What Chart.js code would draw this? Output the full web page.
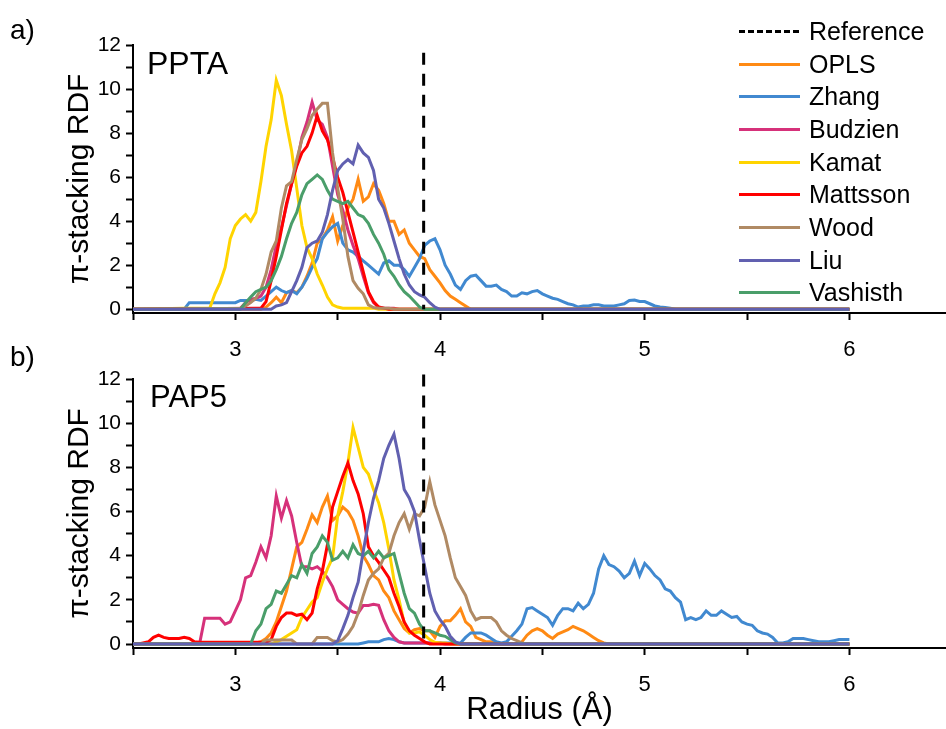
<!DOCTYPE html>
<html>
<head>
<meta charset="utf-8">
<script src="https://cdn.jsdelivr.net/npm/chart.js@4.4.1/dist/chart.umd.min.js"></script>
<style>
    body { margin: 0; background: #fff; font-family: "Liberation Sans", Arial, sans-serif; }
    #page { position: relative; width: 946px; height: 729px; overflow: hidden; background: #fff; }
    .panel { position: absolute; left: 0; }
    .tag { position: absolute; color: #000; line-height: 1; white-space: nowrap; }
    #legend { position: absolute; left: 739px; top: 15px; }
    .row { display: flex; align-items: center; height: 32.7px; font-size: 25px; color: #000; }
    .swatch { width: 61px; height: 3px; margin-right: 9px; }
</style>
</head>
<body>
<div id="page">
    <div class="panel" style="top:0px"><canvas id="chartA" width="946" height="365"></canvas></div>
    <div class="panel" style="top:330px"><canvas id="chartB" width="946" height="399"></canvas></div>
    <div class="tag" style="left:10px; top:16px; font-size:28px">a)</div>
    <div class="tag" style="left:10px; top:343px; font-size:28px">b)</div>
    <div class="tag" style="left:147px; top:47px; font-size:32px">PPTA</div>
    <div class="tag" style="left:150px; top:381px; font-size:31px">PAP5</div>
    <div id="legend"></div>
</div>
<script>
// Shared grid of the RDF data (Å)
const STEP = 0.025;
const X_START = 2.5;
const X_END = 6.0;
const REF_X = 3.92;

const seriesNames = ["OPLS", "Zhang", "Budzien", "Kamat", "Mattsson", "Wood", "Liu", "Vashisth"];
const seriesColors = ["#ff8a14", "#4189d0", "#d6317a", "#ffd400", "#ff0000", "#b08a64", "#6160b0", "#4a9e6a"];
const xTicks = [2.5, 3, 3.5, 4, 4.5, 5, 5.5, 6];
const yTicks = [0, 1, 2, 3, 4, 5, 6, 7, 8, 9, 10, 11, 12];

// PPTA (panel a): first x of every series, then the values on the STEP grid
const pptaStarts = [3.125, 2.75, 3.025, 2.75, 3.1, 3.025, 3.175, 3.025];
const pptaOpls = [0, 0.1, 0.3, 0.55, 0.3, 0.75, 0.85, 0.75, 1.0, 1.5, 2.1, 3.0, 3.2, 3.6, 4.2, 3.1, 3.8, 4.6, 5.0, 5.9, 4.9, 5.1, 5.7, 5.4, 4.8, 4.0, 4.0, 3.4, 3.6, 3.0, 2.7, 2.4, 2.3, 1.8, 1.5, 1.2, 0.85, 0.6, 0.45, 0.3, 0.15, 0];
const pptaZhang = [0, 0.3, 0.3, 0.3, 0.3, 0.3, 0.3, 0.3, 0.3, 0.3, 0.3, 0.4, 0.4, 0.4, 0.45, 0.4, 0.6, 0.8, 1.0, 0.85, 0.75, 0.85, 0.7, 1.0, 1.4, 1.9, 2.3, 3.2, 3.5, 3.75, 3.9, 3.0, 2.7, 2.6, 2.4, 2.2, 2.0, 1.8, 1.6, 2.1, 2.2, 2.0, 2.0, 1.8, 1.5, 1.9, 2.3, 2.9, 3.1, 3.2, 2.7, 2.0, 1.6, 1.1, 0.9, 1.3, 1.5, 1.55, 1.3, 1.05, 1.05, 1.1, 0.9, 0.8, 0.6, 0.6, 0.75, 0.7, 0.8, 0.85, 0.7, 0.6, 0.5, 0.45, 0.35, 0.25, 0.2, 0.1, 0.15, 0.15, 0.2, 0.2, 0.15, 0.15, 0.15, 0.2, 0.25, 0.4, 0.42, 0.35, 0.35, 0.25, 0.15, 0.1, 0.08, 0.05, 0];
const pptaBudzien = [0.05, 0.3, 0.45, 0.5, 0.6, 1.0, 1.8, 2.9, 3.7, 4.7, 5.7, 6.6, 7.8, 8.5, 9.4, 8.6, 8.4, 7.8, 6.5, 5.2, 4.5, 3.6, 2.9, 2.3, 1.5, 0.75, 0.3, 0.1, 0.05, 0.05, 0.05, 0];
const pptaKamat = [0.05, 0.05, 0.05, 0.05, 0.05, 0.05, 0.7, 1.2, 1.9, 3.2, 3.8, 4.1, 4.3, 4.0, 4.4, 5.8, 7.4, 8.6, 10.4, 9.7, 8.4, 7.2, 5.5, 3.8, 2.8, 2.3, 1.6, 1.1, 0.55, 0.2, 0.1, 0.05, 0.05, 0.05, 0.05, 0.05, 0.05, 0.05, 0];
const pptaMattsson = [0.05, 0.05, 0.35, 1.3, 2.4, 3.6, 4.8, 5.7, 6.5, 7.1, 7.4, 8.0, 8.8, 8.1, 7.7, 6.9, 6.0, 5.3, 4.4, 3.5, 2.6, 1.7, 0.8, 0.35, 0.1, 0.05, 0];
const pptaWood = [0.05, 0.15, 0.3, 0.5, 0.9, 1.6, 2.6, 3.1, 4.6, 5.6, 5.8, 6.8, 7.7, 8.2, 8.8, 9.1, 9.35, 9.35, 7.1, 5.5, 4.1, 2.4, 1.3, 0.95, 0.7, 0.2, 0.08, 0.05, 0.05, 0.05, 0];
const pptaLiu = [0, 0.15, 0.2, 0.3, 0.8, 1.3, 1.9, 2.8, 3.0, 3.1, 3.5, 4.3, 5.4, 6.3, 6.6, 6.8, 6.6, 7.45, 7.1, 6.9, 6.3, 5.0, 4.6, 3.9, 3.1, 2.3, 1.6, 1.1, 0.8, 0.65, 0.55, 0.3, 0.1, 0];
const pptaVashisth = [0, 0.3, 0.55, 0.8, 0.9, 1.0, 1.3, 1.8, 2.4, 3.2, 3.9, 4.4, 5.2, 5.7, 5.9, 6.1, 5.9, 5.4, 5.0, 4.9, 4.8, 4.9, 4.6, 4.3, 4.2, 3.9, 3.4, 3.0, 2.5, 1.8, 1.5, 1.1, 0.8, 0.6, 0.35, 0.1, 0];

// PAP5 (panel b)
const pap5Starts = [3.075, 3.6, 2.825, 3.175, 2.525, 3.125, 3.475, 3.075];
const pap5Opls = [0, 0.05, 0.1, 0.25, 0.5, 1.0, 1.7, 2.4, 3.4, 4.4, 4.6, 5.2, 5.85, 5.5, 6.2, 6.7, 5.6, 5.8, 6.2, 6.0, 5.6, 4.9, 4.0, 3.6, 3.1, 2.9, 2.4, 2.1, 1.5, 1.1, 0.7, 0.5, 0.65, 0.7, 0.6, 0.6, 0.3, 0.8, 1.05, 1.05, 1.3, 1.6, 1.0, 0.8, 0.3, 0.2, 0.1, 0.1, 0, 0, 0, 0, 0, 0.1, 0.4, 0.6, 0.7, 0.6, 0.4, 0.25, 0.45, 0.55, 0.65, 0.8, 0.7, 0.6, 0.45, 0.3, 0.15, 0.05, 0];
const pap5Zhang = [0, 0.05, 0.1, 0.1, 0.1, 0.2, 0.25, 0.2, 0.1, 0.05, 0.05, 0.05, 0.05, 0.05, 0.05, 0.05, 0.05, 0.05, 0.05, 0.05, 0.05, 0.3, 0.5, 0.5, 0.5, 0.4, 0.25, 0.1, 0.05, 0.1, 0.35, 0.6, 0.9, 1.6, 1.65, 1.5, 1.35, 1.2, 0.85, 1.3, 1.6, 1.6, 1.5, 1.85, 1.6, 1.8, 2.3, 3.4, 4.0, 3.6, 3.5, 3.3, 3.0, 3.2, 3.75, 3.1, 3.65, 3.4, 3.1, 2.9, 2.5, 2.4, 2.1, 1.9, 1.1, 1.2, 1.1, 1.2, 1.5, 1.3, 1.3, 1.5, 1.35, 1.2, 1.25, 1.0, 0.9, 0.85, 0.6, 0.5, 0.45, 0.3, 0.05, 0.05, 0.1, 0.25, 0.25, 0.25, 0.2, 0.15, 0.1, 0.1, 0.1, 0.15, 0.2, 0.2, 0.2];
const pap5Budzien = [0, 1.17, 1.17, 1.17, 1.17, 0.9, 1.0, 1.5, 2.0, 3.0, 3.1, 3.7, 4.4, 3.9, 4.9, 6.7, 5.7, 6.5, 5.8, 4.6, 3.5, 3.5, 3.4, 3.5, 3.3, 3.0, 2.6, 2.0, 1.8, 1.6, 1.45, 1.4, 1.75, 1.75, 1.8, 1.75, 1.1, 0.6, 0.3, 0.1, 0.05, 0.05, 0.05, 0.05, 0.05, 0.05, 0.05, 0.05, 0];
const pap5Kamat = [0, 0.1, 0.2, 0.35, 0.5, 0.65, 1.2, 1.55, 1.9, 2.1, 2.8, 3.4, 3.9, 5.8, 6.9, 8.2, 9.8, 8.9, 8.0, 7.7, 7.0, 6.4, 5.5, 4.3, 2.9, 2.0, 0.95, 0.5, 0.5, 0.55, 0.4, 0.2, 0.08, 0.05, 0.05, 0];
const pap5Mattsson = [0, 0.05, 0.1, 0.3, 0.4, 0.3, 0.25, 0.25, 0.25, 0.3, 0.25, 0.1, 0.08, 0.08, 0.08, 0.08, 0.08, 0.08, 0.08, 0.08, 0.08, 0.08, 0.08, 0.08, 0.08, 0.08, 0.2, 0.8, 1.2, 1.4, 1.4, 1.3, 1.35, 1.1, 1.4, 2.5, 3.3, 4.5, 6.2, 6.9, 7.6, 8.2, 7.4, 6.8, 5.9, 4.4, 4.0, 3.7, 3.35, 3.0, 2.3, 1.7, 1.0, 0.6, 0.4, 0.25, 0.1, 0];
const pap5Wood = [0, 0.18, 0.18, 0.18, 0.18, 0.18, 0.18, 0, 0, 0, 0, 0.3, 0.3, 0.3, 0.15, 0.1, 0.2, 0.45, 0.8, 1.4, 2.2, 2.9, 3.2, 3.4, 3.9, 4.1, 4.9, 5.5, 5.9, 5.2, 5.9, 5.8, 6.2, 7.35, 6.3, 5.6, 4.9, 3.9, 3.0, 2.6, 2.2, 1.5, 1.1, 1.2, 1.2, 1.2, 1.0, 0.6, 0.4, 0.25, 0.15, 0.05, 0];
const pap5Liu = [0, 0.15, 0.7, 1.3, 2.1, 2.8, 4.2, 5.5, 6.6, 7.4, 8.4, 9.0, 9.5, 8.4, 7.0, 6.6, 6.0, 4.7, 3.5, 2.3, 1.5, 1.1, 0.8, 0.35, 0.1, 0];
const pap5Vashisth = [0, 0.6, 0.9, 1.6, 1.8, 2.4, 2.3, 2.7, 3.1, 3.0, 3.6, 3.2, 4.1, 4.4, 4.9, 4.6, 3.8, 3.9, 4.2, 3.9, 4.5, 4.1, 4.0, 4.2, 3.9, 4.2, 3.9, 4.0, 4.1, 3.2, 2.3, 1.6, 1.4, 0.9, 0.6, 0.6, 0.5, 0.4, 0.35, 0.2, 0.05, 0];

const pptaValues = [pptaOpls, pptaZhang, pptaBudzien, pptaKamat, pptaMattsson, pptaWood, pptaLiu, pptaVashisth];
const pap5Values = [pap5Opls, pap5Zhang, pap5Budzien, pap5Kamat, pap5Mattsson, pap5Wood, pap5Liu, pap5Vashisth];

const FONT = "'Liberation Sans', Arial, sans-serif";

document.addEventListener("DOMContentLoaded", () => {
    buildLegend();
    makePanel("chartA", pptaStarts, pptaValues, { top: 45, xHeight: 52, yMin: -0.17, refTop: 11.65, xTitle: false });
    makePanel("chartB", pap5Starts, pap5Values, { top: 49, xHeight: 81, yMin: -0.18, refTop: 12.2, xTitle: true });
});

// Turns a start + value list into {x, y} points, padded with zeros to the axis ends
function toPoints(start, ys) {
    const pts = ys.map((y, i) => ({ x: +(start + i * STEP).toFixed(3), y }));
    if (pts[0].x > X_START) pts.unshift({ x: X_START, y: 0 });
    if (pts[pts.length - 1].x < X_END) pts.push({ x: X_END, y: 0 });
    return pts;
}

// Legend drawn in HTML at the top right
function buildLegend() {
    const legend = document.getElementById("legend");
    const rows = [{ name: "Reference", color: null }].concat(
        seriesNames.map((name, i) => ({ name, color: seriesColors[i] })));
    rows.forEach(r => {
        const row = document.createElement("div");
        row.className = "row";
        const sw = document.createElement("div");
        sw.className = "swatch";
        sw.style.background = r.color
            ? r.color
            : "repeating-linear-gradient(to right, #000 0 6px, transparent 6px 9px)";
        const label = document.createElement("span");
        label.textContent = r.name;
        row.appendChild(sw);
        row.appendChild(label);
        legend.appendChild(row);
    });
}

function makePanel(canvasId, starts, values, cfg) {
    // Liu drawn on top of the others, reference line on top of everything
    const drawOrder = [6, 7, 5, 4, 3, 2, 1, 0];
    const datasets = [{
        data: [{ x: REF_X, y: cfg.refTop }, { x: REF_X, y: 0 }],
        borderColor: "#000",
        borderWidth: 3,
        borderDash: [12, 9],
        clip: false
    }];
    drawOrder.forEach(i => {
        datasets.push({
            label: seriesNames[i],
            data: toPoints(starts[i], values[i]),
            borderColor: seriesColors[i],
            borderWidth: 3
        });
    });

    new Chart(document.getElementById(canvasId), {
        type: "line",
        data: { datasets },
        options: {
            responsive: false,
            animation: false,
            devicePixelRatio: 1,
            layout: { padding: { top: cfg.top, left: 0, right: 0, bottom: 0 } },
            elements: { point: { radius: 0 }, line: { tension: 0, fill: false } },
            plugins: { legend: { display: false }, tooltip: { enabled: false } },
            scales: {
                x: {
                    type: "linear",
                    min: X_START,
                    max: 6.472,
                    afterBuildTicks: axis => { axis.ticks = xTicks.map(v => ({ value: v })); },
                    afterFit: scale => { scale.height = cfg.xHeight; },
                    border: { color: "#000", width: 2 },
                    grid: { drawOnChartArea: false, color: "#000", tickLength: 7, tickWidth: 2 },
                    ticks: {
                        autoSkip: false,
                        maxRotation: 0,
                        padding: 17,
                        color: "#000",
                        font: { family: FONT, size: 22 },
                        callback: v => Number.isInteger(v) ? v : ""
                    },
                    title: {
                        display: cfg.xTitle,
                        text: "Radius (Å)",
                        color: "#000",
                        font: { family: FONT, size: 31 },
                        padding: { top: 0, bottom: 0 }
                    }
                },
                y: {
                    min: cfg.yMin,
                    max: 12,
                    afterBuildTicks: axis => { axis.ticks = yTicks.map(v => ({ value: v })); },
                    afterFit: scale => { scale.width = 133; },
                    border: { color: "#000", width: 2 },
                    grid: { drawOnChartArea: false, color: "#000", tickLength: 7, tickWidth: 2 },
                    ticks: {
                        autoSkip: false,
                        padding: 5,
                        color: "#000",
                        font: { family: FONT, size: 21 },
                        callback: v => v % 2 === 0 ? v : ""
                    },
                    title: {
                        display: true,
                        text: "π-stacking RDF",
                        color: "#000",
                        font: { family: FONT, size: 30 },
                        padding: { top: 62, bottom: 0 }
                    }
                }
            }
        }
    });
}
</script>
</body>
</html>
